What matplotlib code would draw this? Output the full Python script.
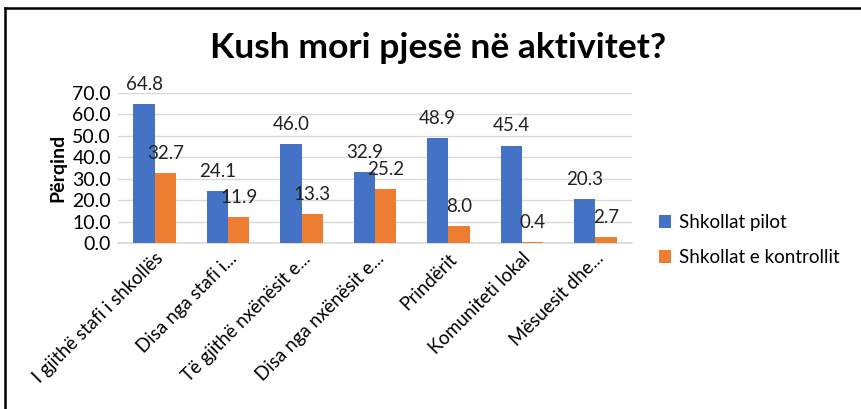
import matplotlib.pyplot as plt
import numpy as np

plt.rcParams['font.family'] = ['Lato', 'DejaVu Sans']

categories = ["I gjithë stafi i shkollës", "Disa nga stafi i...", "Të gjithë nxënësit e...",
              "Disa nga nxënësit e...", "Prindërit", "Komuniteti lokal", "Mësuesit dhe..."]
pilot = [64.8, 24.1, 46.0, 32.9, 48.9, 45.4, 20.3]
kontroll = [32.7, 11.9, 13.3, 25.2, 8.0, 0.4, 2.7]

fig = plt.figure(figsize=(8.61, 4.09), dpi=100)
ax = fig.add_axes([0.137, 0.406, 0.597, 0.367])

x = np.arange(len(categories))
w = 0.29
b1 = ax.bar(x - w / 2, pilot, w, color='#4472C4', label='Shkollat pilot', zorder=3)
b2 = ax.bar(x + w / 2, kontroll, w, color='#ED7D31', label='Shkollat e kontrollit', zorder=3)
for bars in (b1, b2):
    ax.bar_label(bars, fmt='%.1f', padding=8, fontsize=13.5, color='#222222')

ax.set_ylim(0, 70)
ax.set_xlim(-0.5, len(categories) - 0.5)
ax.set_yticks(np.arange(0, 71, 10))
ax.set_yticklabels([f"{v:.1f}" for v in np.arange(0, 71, 10)], fontsize=14)
ax.yaxis.grid(True, color='#d9d9d9', linewidth=1, zorder=0)
ax.set_xticks(x)
ax.set_xticklabels(categories, rotation=45, ha='right', rotation_mode='anchor', fontsize=13.5)
ax.tick_params(length=0, pad=5)
for s in ['top', 'right', 'left']:
    ax.spines[s].set_visible(False)
ax.spines['bottom'].set_color('#d9d9d9')
ax.spines['bottom'].set_linewidth(1.2)

ax.set_ylabel('Përqind', fontsize=14, fontweight='bold', labelpad=4)
fig.text(0.509, 0.882, 'Kush mori pjesë në aktivitet?', ha='center', va='center',
         fontsize=25.5, fontweight='bold')

ax.legend(loc='center left', bbox_to_anchor=(1.02, 0.02), frameon=False, fontsize=13.5,
          handlelength=0.65, handleheight=0.65, labelspacing=0.95, handletextpad=0.4)

# chart border (top and left visible)
fig.add_artist(plt.Line2D([0.006, 1.0], [0.980, 0.980], color='black', linewidth=1.8))
fig.add_artist(plt.Line2D([0.006, 0.006], [0.0, 0.980], color='black', linewidth=1.8))

fig.savefig('out.png', dpi=100)
